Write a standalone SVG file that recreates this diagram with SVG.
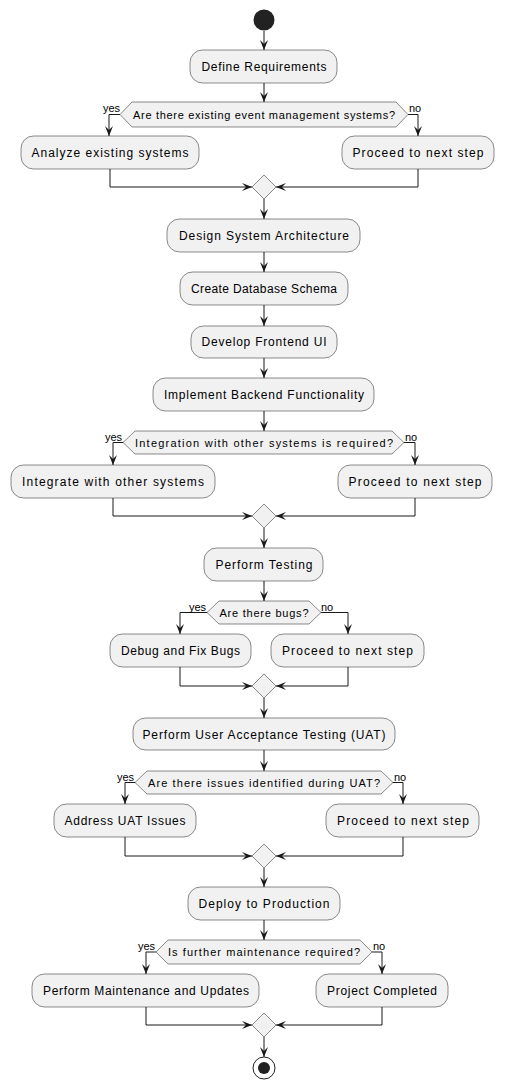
<svg xmlns="http://www.w3.org/2000/svg" width="506" height="1089" viewBox="0 0 506 1089">
<style>
.box{fill:#F1F1F1;stroke:#181818;stroke-width:0.5}
.dec{fill:#F1F1F1;stroke:#181818;stroke-width:0.5}
.t{font-family:"Liberation Sans",Arial,sans-serif;font-size:12px;fill:#000;text-anchor:middle}
.d{font-family:"Liberation Sans",Arial,sans-serif;font-size:11px;fill:#000;text-anchor:middle}
.l{font-family:"Liberation Sans",Arial,sans-serif;font-size:11px;fill:#000}
.c{fill:none;stroke:#181818;stroke-width:1;marker-end:url(#ah)}
</style>
<defs>
<marker id="ah" markerUnits="userSpaceOnUse" markerWidth="12" markerHeight="10" viewBox="-11 -5 12 10" refX="0" refY="0" orient="auto">
<polygon points="0,0 -10,-4 -6,0 -10,4" fill="#181818"/>
</marker>
</defs>
<g id="connectors">
<path class="c" d="M264,31 L264,50"/>
<path class="c" d="M264,83 L264,102"/>
<path class="c" d="M120,114.5 L109,114.5 L109,136"/>
<path class="c" d="M408,114.5 L418,114.5 L418,136"/>
<path class="c" d="M110,169 L110,187 L252,187"/>
<path class="c" d="M418,169 L418,187 L276,187"/>
<path class="c" d="M264,199 L264,219"/>
<path class="c" d="M264,252 L264,272"/>
<path class="c" d="M264,305 L264,326"/>
<path class="c" d="M264,358 L264,378"/>
<path class="c" d="M264,411 L264,431"/>
<path class="c" d="M123,442.5 L113,442.5 L113,465"/>
<path class="c" d="M404,442.5 L415,442.5 L415,465"/>
<path class="c" d="M113,498 L113,516 L252,516"/>
<path class="c" d="M415,498 L415,516 L276,516"/>
<path class="c" d="M264,528 L264,548"/>
<path class="c" d="M264,581 L264,601"/>
<path class="c" d="M207,612.5 L180,612.5 L180,634"/>
<path class="c" d="M321,612.5 L348,612.5 L348,634"/>
<path class="c" d="M180,667 L180,686 L252,686"/>
<path class="c" d="M348,667 L348,686 L276,686"/>
<path class="c" d="M264,698 L264,718"/>
<path class="c" d="M264,750 L264,771"/>
<path class="c" d="M135,782.5 L125,782.5 L125,804"/>
<path class="c" d="M393,782.5 L403,782.5 L403,804"/>
<path class="c" d="M125,837 L125,856 L252,856"/>
<path class="c" d="M403,837 L403,856 L276,856"/>
<path class="c" d="M264,868 L264,887"/>
<path class="c" d="M264,920 L264,940"/>
<path class="c" d="M156,952 L146,952 L146,974"/>
<path class="c" d="M372,952 L382,952 L382,974"/>
<path class="c" d="M146,1007 L146,1025 L252,1025"/>
<path class="c" d="M382,1007 L382,1025 L276,1025"/>
<path class="c" d="M264,1037 L264,1057"/>
</g>
<g id="start"><circle cx="264" cy="20" r="10.5" fill="#222222"/></g>
<g id="n1"><rect class="box" x="190" y="50" width="147" height="33" rx="12.5"/><text class="t" x="264" y="71" textLength="125" lengthAdjust="spacing">Define Requirements</text></g>
<g id="d1"><polygon class="dec" points="120,114.5 132,102 396,102 408,114.5 396,127 132,127"/><text class="d" x="264" y="118.5" textLength="262" lengthAdjust="spacing">Are there existing event management systems?</text><text class="l" x="103" y="112">yes</text><text class="l" x="409" y="112">no</text></g>
<g id="n2"><rect class="box" x="21" y="136" width="178" height="33" rx="12.5"/><text class="t" x="110" y="157" textLength="157" lengthAdjust="spacing">Analyze existing systems</text></g>
<g id="n3"><rect class="box" x="342" y="136" width="152" height="33" rx="12.5"/><text class="t" x="418" y="157" textLength="131" lengthAdjust="spacing">Proceed to next step</text></g>
<g id="m1"><polygon class="dec" points="264,175 276,187 264,199 252,187"/></g>
<g id="n4"><rect class="box" x="167" y="219" width="193" height="33" rx="12.5"/><text class="t" x="264" y="240" textLength="170" lengthAdjust="spacing">Design System Architecture</text></g>
<g id="n5"><rect class="box" x="180" y="272" width="168" height="33" rx="12.5"/><text class="t" x="264" y="293" textLength="146" lengthAdjust="spacing">Create Database Schema</text></g>
<g id="n6"><rect class="box" x="191" y="326" width="146" height="32" rx="12.5"/><text class="t" x="264" y="346" textLength="125" lengthAdjust="spacing">Develop Frontend UI</text></g>
<g id="n7"><rect class="box" x="153" y="378" width="221" height="33" rx="12.5"/><text class="t" x="264" y="399" textLength="200" lengthAdjust="spacing">Implement Backend Functionality</text></g>
<g id="d2"><polygon class="dec" points="123,442.5 135,431 392,431 404,442.5 392,454 135,454"/><text class="d" x="264" y="446.5" textLength="258" lengthAdjust="spacing">Integration with other systems is required?</text><text class="l" x="105" y="441">yes</text><text class="l" x="405" y="441">no</text></g>
<g id="n8"><rect class="box" x="11" y="465" width="204" height="33" rx="12.5"/><text class="t" x="113" y="486" textLength="182" lengthAdjust="spacing">Integrate with other systems</text></g>
<g id="n9"><rect class="box" x="338" y="465" width="154" height="33" rx="12.5"/><text class="t" x="415" y="486" textLength="133" lengthAdjust="spacing">Proceed to next step</text></g>
<g id="m2"><polygon class="dec" points="264,504 276,516 264,528 252,516"/></g>
<g id="n10"><rect class="box" x="204" y="548" width="119" height="33" rx="12.5"/><text class="t" x="264" y="569" textLength="97" lengthAdjust="spacing">Perform Testing</text></g>
<g id="d3"><polygon class="dec" points="207,612.5 219,601 309,601 321,612.5 309,624 219,624"/><text class="d" x="264" y="616.5" textLength="89" lengthAdjust="spacing">Are there bugs?</text><text class="l" x="189" y="611">yes</text><text class="l" x="321" y="611">no</text></g>
<g id="n11"><rect class="box" x="110" y="634" width="141" height="33" rx="12.5"/><text class="t" x="180.5" y="655" textLength="119" lengthAdjust="spacing">Debug and Fix Bugs</text></g>
<g id="n12"><rect class="box" x="271" y="634" width="153" height="33" rx="12.5"/><text class="t" x="347.5" y="655" textLength="131" lengthAdjust="spacing">Proceed to next step</text></g>
<g id="m3"><polygon class="dec" points="264,674 276,686 264,698 252,686"/></g>
<g id="n13"><rect class="box" x="133" y="718" width="262" height="32" rx="12.5"/><text class="t" x="264" y="738.5" textLength="243" lengthAdjust="spacing">Perform User Acceptance Testing (UAT)</text></g>
<g id="d4"><polygon class="dec" points="135,782.5 147,771 381,771 393,782.5 381,794 147,794"/><text class="d" x="264" y="786.5" textLength="232" lengthAdjust="spacing">Are there issues identified during UAT?</text><text class="l" x="117" y="781">yes</text><text class="l" x="394" y="781">no</text></g>
<g id="n14"><rect class="box" x="54" y="804" width="142" height="33" rx="12.5"/><text class="t" x="125" y="825" textLength="121" lengthAdjust="spacing">Address UAT Issues</text></g>
<g id="n15"><rect class="box" x="326" y="804" width="153" height="33" rx="12.5"/><text class="t" x="403" y="825" textLength="132" lengthAdjust="spacing">Proceed to next step</text></g>
<g id="m4"><polygon class="dec" points="264,844 276,856 264,868 252,856"/></g>
<g id="n16"><rect class="box" x="188" y="887" width="152" height="33" rx="12.5"/><text class="t" x="264" y="908" textLength="131" lengthAdjust="spacing">Deploy to Production</text></g>
<g id="d5"><polygon class="dec" points="156,952 168,940 360,940 372,952 360,964 168,964"/><text class="d" x="264" y="956" textLength="192" lengthAdjust="spacing">Is further maintenance required?</text><text class="l" x="138" y="950">yes</text><text class="l" x="373" y="950">no</text></g>
<g id="n17"><rect class="box" x="32" y="974" width="227" height="33" rx="12.5"/><text class="t" x="146" y="995" textLength="206" lengthAdjust="spacing">Perform Maintenance and Updates</text></g>
<g id="n18"><rect class="box" x="316" y="974" width="132" height="33" rx="12.5"/><text class="t" x="382" y="995" textLength="110" lengthAdjust="spacing">Project Completed</text></g>
<g id="m5"><polygon class="dec" points="264,1013 276,1025 264,1037 252,1025"/></g>
<g id="end"><circle cx="264" cy="1068" r="11" fill="none" stroke="#222222" stroke-width="1"/><circle cx="264" cy="1068" r="6" fill="#222222"/></g>
</svg>
